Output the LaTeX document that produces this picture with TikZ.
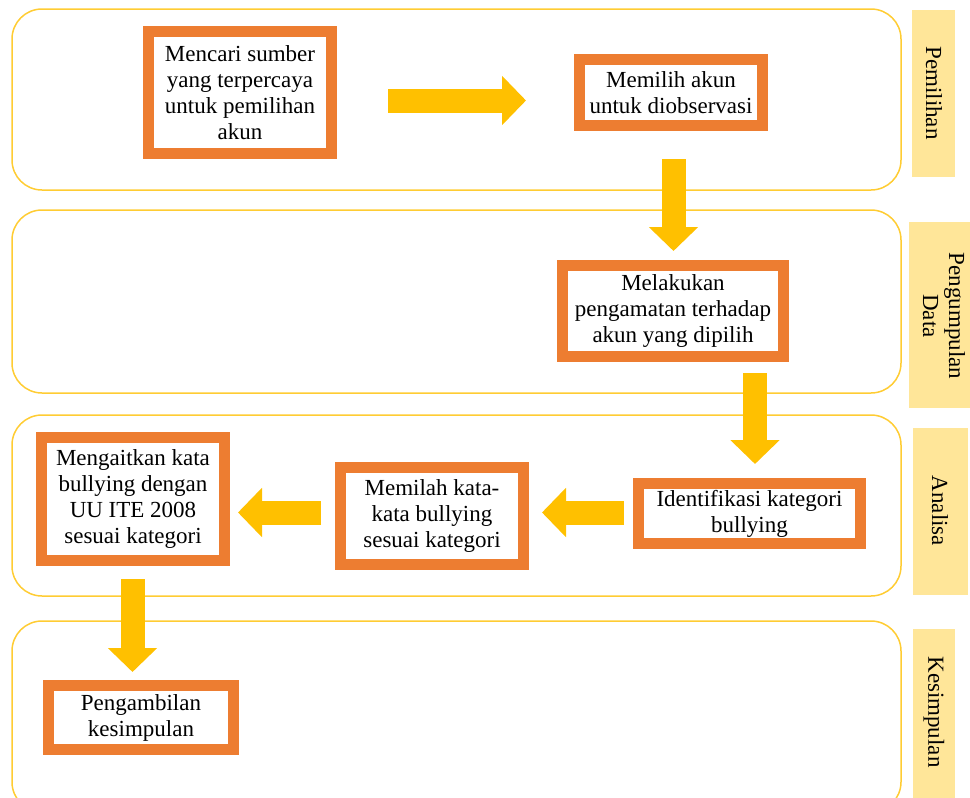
\documentclass[tikz,border=0pt]{standalone}
\usepackage{fontspec}
\setmainfont{Liberation Serif}
\usetikzlibrary{arrows.meta}
\definecolor{laneline}{HTML}{FFCC33}
\definecolor{tagfill}{HTML}{FFE699}
\definecolor{boxorange}{HTML}{ED7D31}
\definecolor{arrowgold}{HTML}{FFC000}
\begin{document}
\begin{tikzpicture}[x=1pt,y=-1pt,
  lanebox/.style={draw=laneline, line width=1.5pt, rounded corners=30pt},
  tagbar/.style={fill=tagfill, draw=none},
  tagtext/.style={rotate=-90, font=\fontsize{23}{26}\selectfont, align=flush center, inner sep=0pt},
  stepbox/.style={draw=boxorange, line width=11pt, fill=white, align=flush center,
    inner sep=0pt, outer sep=0pt, font=\fontsize{23}{26}\selectfont},
  barrow/.style={draw=arrowgold, line width=24pt, -{Triangle[width=48pt,length=24pt]}}
]
\useasboundingbox (0,0) rectangle (970,798);
\clip (0,0) rectangle (970,798);

% swim lanes
\draw[lanebox] (12,9) rectangle (901,190);
\draw[lanebox] (12,210) rectangle (901,393);
\draw[lanebox] (12,415) rectangle (901,596);
\draw[lanebox] (12,621) rectangle (901,812);

% lane tags
\fill[tagbar] (912,10) rectangle (955,177);
\node[tagtext] (t1) at (934,93) {Pemilihan};
\fill[tagbar] (909,222) rectangle (972,408);
\node[tagtext] (t2) at (944,316) {Pengumpulan\\Data};
\fill[tagbar] (913,428) rectangle (968,595);
\node[tagtext] (t3) at (940,511) {Analisa};
\fill[tagbar] (913,629) rectangle (955,800);
\node[tagtext] (t4) at (934,712) {Kesimpulan};

% arrow end points
\coordinate (a1s) at (388,100.5);  \coordinate (a1e) at (526,100.5);
\coordinate (a2s) at (673.5,159);  \coordinate (a2e) at (673.5,251);
\coordinate (a3s) at (755,373);    \coordinate (a3e) at (755,464);
\coordinate (a4s) at (624,512.5);  \coordinate (a4e) at (542,512.5);
\coordinate (a5s) at (321,512.5);  \coordinate (a5e) at (238,512.5);
\coordinate (a6s) at (132.5,579);  \coordinate (a6e) at (132.5,672);

\draw[barrow] (a1s) -- (a1e);
\draw[barrow] (a2s) -- (a2e);
\draw[barrow] (a3s) -- (a3e);
\draw[barrow] (a4s) -- (a4e);
\draw[barrow] (a5s) -- (a5e);
\draw[barrow] (a6s) -- (a6e);

% process boxes
\node[stepbox, minimum width=183pt, minimum height=122pt, text width=183pt] (b1) at (240,92.5)
  {Mencari sumber\\yang terpercaya\\untuk pemilihan\\akun};
\node[stepbox, minimum width=183pt, minimum height=66pt, text width=183pt] (b2) at (671,92.5)
  {Memilih akun\\untuk diobservasi};
\node[stepbox, minimum width=221pt, minimum height=91pt, text width=221pt] (b3) at (673,311)
  {Melakukan\\pengamatan terhadap\\akun yang dipilih};
\node[stepbox, minimum width=222pt, minimum height=60pt, text width=222pt] (b4) at (749.5,513.5)
  {Identifikasi kategori\\bullying};
\node[stepbox, minimum width=183pt, minimum height=97pt, text width=183pt] (b5) at (432,516)
  {Memilah kata-\\kata bullying\\sesuai kategori};
\node[stepbox, minimum width=183pt, minimum height=123pt, text width=183pt] (b6) at (133,499)
  {Mengaitkan kata\\bullying dengan\\UU ITE 2008\\sesuai kategori};
\node[stepbox, minimum width=185pt, minimum height=64pt, text width=185pt] (b7) at (141,717.5)
  {Pengambilan\\kesimpulan};
\end{tikzpicture}
\end{document}
